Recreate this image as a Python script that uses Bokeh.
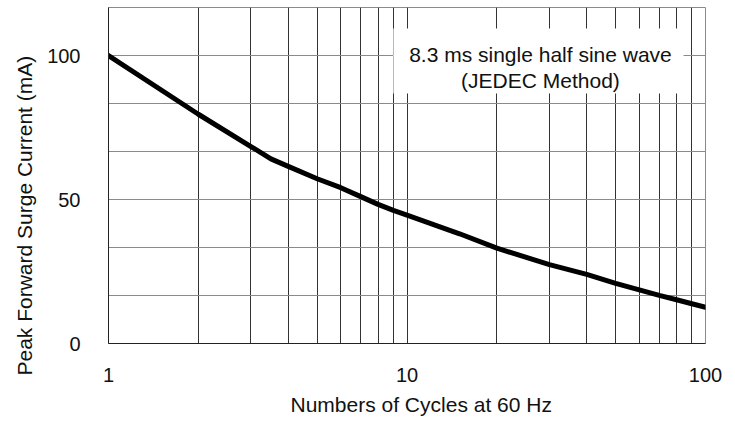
import math
from bokeh.plotting import figure
from bokeh.models import Range1d, FixedTicker, Label, BoxAnnotation, ColumnDataSource, Title
from bokeh.embed import file_html
from bokeh.resources import INLINE

# ---- data ----
cycles = [1, 2, 3, 3.5, 4, 5, 6, 7, 8, 9, 10, 15, 20, 30, 40, 50, 60, 70, 80, 90, 100]
current_mA = [100, 79.6, 68.4, 64.1, 61.5, 57.2, 54.1, 51.0, 48.3, 46.2, 44.6, 38.1, 33.1,
              27.4, 24.0, 20.9, 18.6, 16.7, 15.2, 13.8, 12.6]

x_major_ticks = [1, 10, 100]
x_minor_ticks = [2, 3, 4, 5, 6, 7, 8, 9, 20, 30, 40, 50, 60, 70, 80, 90]
y_major_ticks = [0, 50, 100]
y_minor_ticks = [50 / 3, 100 / 3, 200 / 3, 250 / 3, 350 / 3]

x_label = "Numbers of Cycles at 60 Hz"
y_label = "Peak Forward Surge Current (mA)"
note_line1 = "8.3 ms single half sine wave"
note_line2 = "(JEDEC Method)"

FONT = "Liberation Sans"

p = figure(
    width=735, height=424,
    x_axis_type="log",
    x_range=Range1d(1, 100), y_range=Range1d(0, 350 / 3),
    output_backend="svg", toolbar_location=None,
    min_border_left=108, min_border_right=30, min_border_top=7, min_border_bottom=81,
)
p.background_fill_color = "white"
p.border_fill_color = "white"
p.outline_line_color = "#8a8a8a"
p.outline_line_width = 1

# axes
p.xaxis.ticker = FixedTicker(ticks=x_major_ticks, minor_ticks=x_minor_ticks)
p.yaxis.ticker = FixedTicker(ticks=y_major_ticks, minor_ticks=y_minor_ticks)
p.xaxis.major_label_overrides = {1: "1", 10: "10", 100: "100"}
p.yaxis.major_label_overrides = {0: "0", 50: "50", 100: "100"}
for ax in (p.xaxis, p.yaxis):
    ax.major_tick_line_color = None
    ax.minor_tick_line_color = None
    ax.major_tick_out = 0
    ax.major_tick_in = 0
    ax.minor_tick_out = 0
    ax.minor_tick_in = 0
    ax.axis_line_color = "#222222"
    ax.axis_line_width = 1
    ax.major_label_text_font = FONT
    ax.major_label_text_font_size = "20px"
    ax.major_label_text_color = "#111111"
p.xaxis.major_label_standoff = 24
p.yaxis.major_label_standoff = 28

# grids
p.xgrid.grid_line_color = "#333333"
p.xgrid.grid_line_width = 1
p.xgrid.minor_grid_line_color = "#333333"
p.xgrid.minor_grid_line_width = 1
p.ygrid.grid_line_color = "#8a8a8a"
p.ygrid.grid_line_width = 1
p.ygrid.minor_grid_line_color = "#8a8a8a"
p.ygrid.minor_grid_line_width = 1

# curve
src = ColumnDataSource(dict(x=cycles, y=current_mA))
p.line("x", "y", source=src, line_color="black", line_width=5, line_join="round", line_cap="round")

# annotation box
box = BoxAnnotation(left=9.0, right=84.4, bottom=86.8, top=109.4,
                    fill_color="white", fill_alpha=1.0, line_color=None, line_alpha=0)
p.add_layout(box)
for txt, yy in ((note_line1, 100.24), (note_line2, 91.3)):
    p.add_layout(Label(x=28.0, y=yy, text=txt, text_align="center", text_baseline="alphabetic",
                       text_font=FONT, text_font_size="21px", text_color="#111111"))

# axis titles as side-panel titles (allow offset along the axis)
ytitle = Title(text=y_label, align="left", offset=-32, standoff=18,
               text_font=FONT, text_font_size="21px", text_font_style="normal",
               text_color="#111111")
p.add_layout(ytitle, "left")
xtitle = Title(text=x_label, align="left", offset=182, standoff=12,
               text_font=FONT, text_font_size="21px", text_font_style="normal",
               text_color="#111111")
p.add_layout(xtitle, "below")

open("out.html", "w").write(file_html(p, INLINE))
